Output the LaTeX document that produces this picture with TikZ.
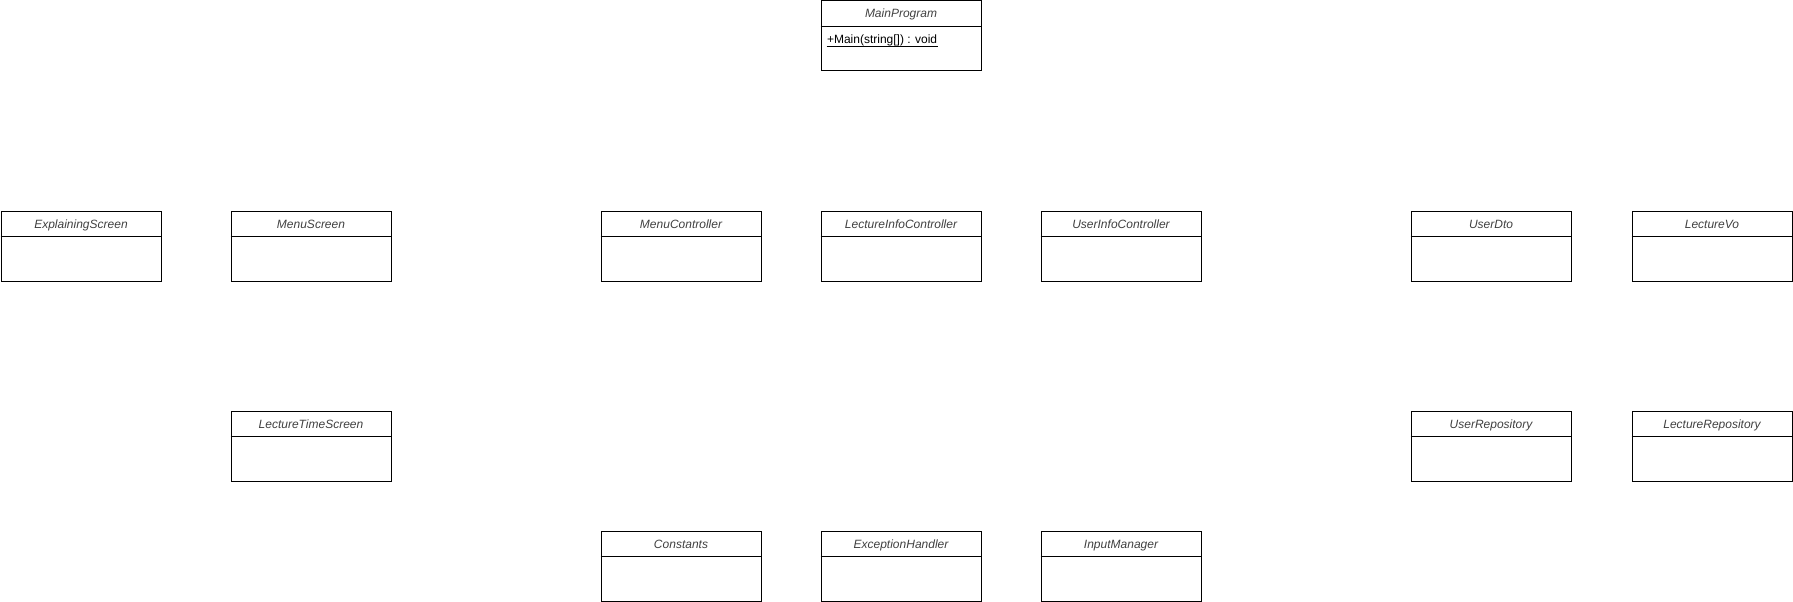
\documentclass[tikz,border=0pt]{standalone}
\usepackage{fontspec}
\setmainfont{Liberation Sans}
\usetikzlibrary{positioning}

\begin{document}
\begin{tikzpicture}[x=1pt, y=1pt, line width=1pt,
    classbox/.style={draw, rectangle, anchor=north west, inner sep=0pt,
      minimum width=160pt, minimum height=70pt},
    classname/.style={font=\fontsize{12}{14}\selectfont\itshape, text=black!75, inner sep=0pt, anchor=base},
    member/.style={font=\fontsize{12}{14}\selectfont, anchor=base west, inner sep=0pt}]
  \useasboundingbox (0,0) rectangle (1793,-602);
  % class boxes: name/x/y/title
  \foreach \nm/\px/\py/\txt in {
      main/820/0/MainProgram,
      explain/0/210/ExplainingScreen, menuscreen/230/210/MenuScreen,
      menuctrl/600/210/MenuController, lecturectrl/820/210/LectureInfoController,
      userctrl/1040/210/UserInfoController, userdto/1410/210/UserDto,
      lecturevo/1631/210/LectureVo,
      timescreen/230/410/LectureTimeScreen, userrepo/1410/410/UserRepository,
      lecturerepo/1631/410/LectureRepository,
      constants/600/530/Constants, exception/820/530/ExceptionHandler,
      input/1040/530/InputManager} {
    \node[classbox] (\nm) at (\px+0.5,-\py-0.5) {};
    \draw (\nm.north west) ++(0,-26) -- ++(160,0);
    \node[classname] at ([yshift=-17.5pt]\nm.north) {\txt};
  }
  \node[member] (mainop) at ([xshift=6pt, yshift=-43pt]main.north west) {+Main(string[]) : void};
  \draw[line width=0.8pt] ([yshift=-2.5pt]mainop.base west) -- ([yshift=-2.5pt]mainop.base east);
\end{tikzpicture}
\end{document}
